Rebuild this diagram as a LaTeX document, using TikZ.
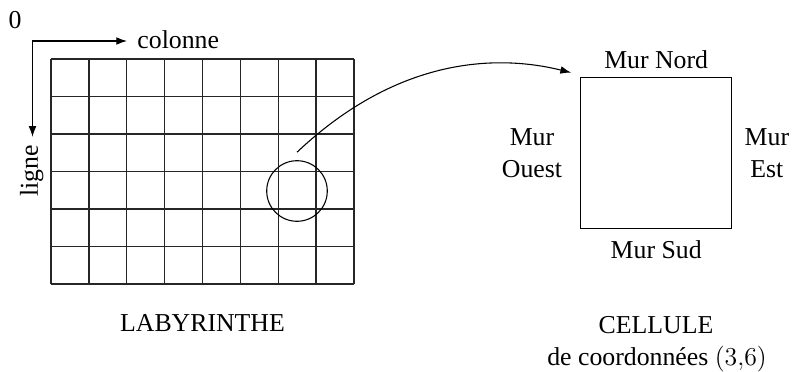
\documentclass[tikz,border=0pt]{standalone}
\usepackage{fontspec}
\setmainfont{Liberation Serif}
\usetikzlibrary{arrows.meta, positioning}
\tikzset{
  lbl/.style={inner sep=0pt, align=center, font=\fontsize{12}{15}\selectfont},
  trait/.style={line width=0.65pt, draw=black!85},
  axe/.style={-{Latex[length=5pt, width=3.6pt]}, line width=0.5pt},
  lien/.style={-{Latex[length=5pt, width=3.6pt]}, line width=0.5pt},
}

\begin{document}
\begin{tikzpicture}[x=0.4654pt, y=-0.4654pt]
  \useasboundingbox (0,0) rectangle (795,372);
  % grille du labyrinthe
  \foreach \i in {0,...,8}
    \draw[trait] (51+\i*37.875,59) -- (51+\i*37.875,284);
  \foreach \j in {0,...,6}
    \draw[trait] (51,59+\j*37.5) -- (354,59+\j*37.5);
  \node[lbl] (laby) at (202.5,323) {LABYRINTHE};
  % axes
  \node[lbl] (zero) at (15,20) {0};
  \coordinate (orig) at (32.5,41);
  \node[lbl, anchor=base west, inner xsep=4.65pt] (colonne) at (127,48) {colonne};
  \node[lbl, rotate=90, anchor=base, inner xsep=3.7pt] (ligne) at (38,171) {ligne};
  \draw[axe] (orig) -- (orig -| colonne.west);
  \draw[axe] (orig) -- (orig |- ligne.east);
  % cellule choisie
  \node[draw, circle, minimum size=28.2pt, inner sep=0pt, line width=0.5pt] (sel) at (297,191) {};
  \node[draw, minimum size=70.3pt, inner sep=0pt, line width=0.5pt] (cellule) at (656.2,153.4) {};
  \node[lbl, above=4pt of cellule] (nord) {Mur Nord};
  \node[lbl, below=4.9pt of cellule] (sud) {Mur Sud};
  \node[lbl, left=8.2pt of cellule] (ouest) {Mur\\Ouest};
  \node[lbl, right=5.6pt of cellule] (est) {Mur\\Est};
  \node[lbl, anchor=base] (titre) at (656,333) {CELLULE};
  \node[lbl, anchor=base] (coord) at (657,365) {de coordonnées $(3{,}6)$};
  \draw[lien] ([yshift=3.7pt]sel.north) .. controls (400,55) and (500,55) .. ([xshift=-4.2pt,yshift=2.2pt]cellule.north west);
\end{tikzpicture}
\end{document}
